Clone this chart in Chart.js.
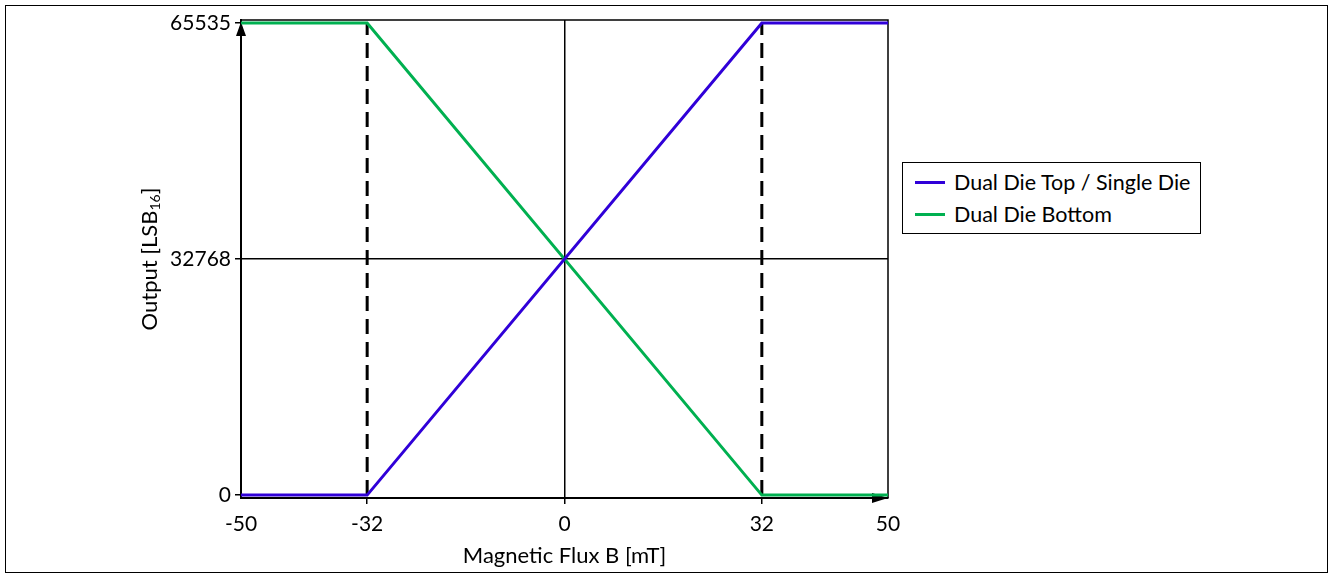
<!DOCTYPE html>
<html>
<head>
<meta charset="utf-8">
<script src="https://cdn.jsdelivr.net/npm/chart.js@4.4.0/dist/chart.umd.min.js"></script>
<style>
  html, body { margin: 0; padding: 0; background: #fff; }
  #wrap { position: relative; width: 1331px; height: 575px; }
  #wrap canvas { position: absolute; left: 0; top: 0; }
  #frame { position: absolute; left: 5px; top: 5px; width: 1323px; height: 568px;
           border: 1.5px solid #000; box-sizing: border-box; pointer-events: none; }
  #legend { position: absolute; left: 902px; top: 162px; width: 299px; height: 72px;
            border: 1.5px solid #000; box-sizing: border-box; padding-top: 3px;
            font: 21.5px Lato, sans-serif; color: #000; background: #fff; }
  .row { display: flex; align-items: center; height: 32px; }
  .swatch { width: 30px; height: 3px; margin-left: 12px; margin-right: 9px; }
</style>
</head>
<body>
<div id="wrap">
  <canvas id="myChart"></canvas>
  <div id="frame"></div>
  <div id="legend"></div>
</div>
<script>
// chart data
const xValues = [-50, -32, 32, 50];
const singleDie = [0, 0, 65535, 65535];
const bottomDie = [65535, 65535, 0, 0];
const limitX = [-32, 32];
const limitY = [0, 65535];
const xTicks = [-50, -32, 0, 32, 50];
const yTicks = [0, 32768, 65535];
const seriesNames = ["Dual Die Top / Single Die", "Dual Die Bottom"];
const seriesColors = ["#3000d8", "#00b050"];

// the x axis of the drawing is not to scale: -32 and 32 sit at these fractions
const knotValues = [-50, -32, 0, 32, 50];
const knotFractions = [0, 0.195, 0.5, 0.805, 1];

class PiecewiseScale extends Chart.LinearScale {
  getPixelForValue(value) {
    let i = 0;
    while (i < knotValues.length - 2 && value > knotValues[i + 1]) i++;
    const t = (value - knotValues[i]) / (knotValues[i + 1] - knotValues[i]);
    return this.getPixelForDecimal(knotFractions[i] + t * (knotFractions[i + 1] - knotFractions[i]));
  }
  getValueForPixel(pixel) {
    const d = this.getDecimalForPixel(pixel);
    let i = 0;
    while (i < knotFractions.length - 2 && d > knotFractions[i + 1]) i++;
    const t = (d - knotFractions[i]) / (knotFractions[i + 1] - knotFractions[i]);
    return knotValues[i] + t * (knotValues[i + 1] - knotValues[i]);
  }
}
PiecewiseScale.id = "piecewise";
PiecewiseScale.defaults = Chart.LinearScale.defaults;
Chart.register(PiecewiseScale);

Chart.defaults.font.family = "Lato";
Chart.defaults.color = "#000";

function points(xs, ys) {
  return xs.map((x, i) => ({ x: x, y: ys[i] }));
}

const datasets = [
  {
    label: seriesNames[0],
    data: points(xValues, singleDie),
    borderColor: seriesColors[0],
    borderWidth: 3,
    pointRadius: 0,
  },
  {
    label: seriesNames[1],
    data: points(xValues, bottomDie),
    borderColor: seriesColors[1],
    borderWidth: 3,
    pointRadius: 0,
  },
];
limitX.forEach((x) => {
  datasets.push({
    label: "",
    data: points([x, x], limitY),
    borderColor: "#000",
    borderWidth: 3,
    borderDash: [15, 8],
    pointRadius: 0,
  });
});

// top/right border of the plot and the two axis arrows
const framePlugin = {
  id: "frame",
  beforeDatasetsDraw(chart) {
    const { ctx, chartArea: a } = chart;
    const yTop = chart.scales.y.getPixelForValue(65535);
    ctx.save();
    ctx.strokeStyle = "#000";
    ctx.lineWidth = 1.5;
    ctx.beginPath();
    ctx.moveTo(a.left, a.top);
    ctx.lineTo(a.right, a.top);
    ctx.lineTo(a.right, a.bottom);
    ctx.stroke();
    ctx.fillStyle = "#000";
    ctx.beginPath();
    ctx.moveTo(a.left, yTop - 1);
    ctx.lineTo(a.left - 5, yTop + 13);
    ctx.lineTo(a.left + 5, yTop + 13);
    ctx.closePath();
    ctx.fill();
    ctx.beginPath();
    ctx.moveTo(a.right, a.bottom);
    ctx.lineTo(a.right - 16, a.bottom - 5);
    ctx.lineTo(a.right - 16, a.bottom + 5);
    ctx.closePath();
    ctx.fill();
    ctx.restore();
  },
  // y title with a real subscript
  afterDraw(chart) {
    const { ctx, chartArea: a } = chart;
    const parts = [["Output [LSB", 22, 0], ["16", 14, 5], ["]", 22, 0]];
    ctx.save();
    ctx.translate(150, (a.top + a.bottom) / 2);
    ctx.rotate(-Math.PI / 2);
    ctx.fillStyle = "#000";
    ctx.textBaseline = "middle";
    let total = 0;
    parts.forEach((p) => {
      ctx.font = p[1] + "px Lato";
      total += ctx.measureText(p[0]).width;
    });
    let x = -total / 2;
    parts.forEach((p) => {
      ctx.font = p[1] + "px Lato";
      ctx.fillText(p[0], x, p[2]);
      x += ctx.measureText(p[0]).width;
    });
    ctx.restore();
  },
};

new Chart(document.getElementById("myChart"), {
  type: "line",
  data: { datasets: datasets },
  options: {
    responsive: true,
    maintainAspectRatio: false,
    animation: false,
    layout: { padding: { top: 20, right: 443, left: 0, bottom: 0 } },
    scales: {
      x: {
        type: "piecewise",
        min: -50,
        max: 50,
        afterFit: (scale) => { scale.height = 77; },
        afterBuildTicks: (scale) => { scale.ticks = xTicks.map((v) => ({ value: v })); },
        grid: {
          color: (c) => (c.tick && c.tick.value === 0 ? "#000" : "rgba(0,0,0,0)"),
          tickColor: (c) => (c.tick && Math.abs(c.tick.value) === 50 ? "rgba(0,0,0,0)" : "#000"),
          lineWidth: 1.5,
          tickLength: 6,
        },
        border: { color: "#000", width: 2 },
        ticks: { font: { size: 21 }, padding: 8, maxRotation: 0, autoSkip: false },
        title: {
          display: true,
          text: "Magnetic Flux B [mT]",
          font: { size: 22 },
          padding: { top: 0, bottom: 6 },
        },
      },
      y: {
        min: -400,
        max: 65950,
        afterFit: (scale) => { scale.width = 241; },
        afterBuildTicks: (scale) => { scale.ticks = yTicks.map((v) => ({ value: v })); },
        grid: {
          color: (c) => (c.tick && c.tick.value === 32768 ? "#000" : "rgba(0,0,0,0)"),
          tickColor: "#000",
          lineWidth: 1.5,
          tickLength: 6,
        },
        border: { color: "#000", width: 2 },
        ticks: {
          font: { size: 21 },
          padding: 4,
          autoSkip: false,
          callback: (v) => String(v),
        },
        title: { display: false },
      },
    },
    plugins: {
      legend: { display: false },
      tooltip: { enabled: false },
    },
  },
  plugins: [framePlugin],
});

// legend box built from the two series
const legend = document.getElementById("legend");
seriesNames.forEach((name, i) => {
  const row = document.createElement("div");
  row.className = "row";
  const sw = document.createElement("span");
  sw.className = "swatch";
  sw.style.background = seriesColors[i];
  const txt = document.createElement("span");
  txt.textContent = name;
  row.appendChild(sw);
  row.appendChild(txt);
  legend.appendChild(row);
});
</script>
</body>
</html>
